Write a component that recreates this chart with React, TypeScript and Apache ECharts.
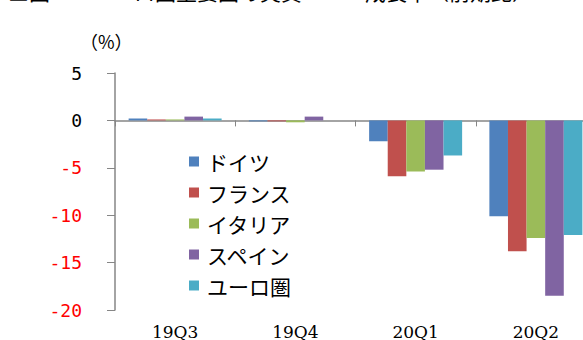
import React, { useEffect, useRef } from "react";
import * as echarts from "echarts";

const categories = ["19Q3", "19Q4", "20Q1", "20Q2"];
const seriesNames = ["ドイツ", "フランス", "イタリア", "スペイン", "ユーロ圏"];
const germany = [0.2, -0.1, -2.2, -10.1];
const france = [0.1, -0.1, -5.9, -13.8];
const italy = [0.1, -0.2, -5.4, -12.4];
const spain = [0.4, 0.4, -5.2, -18.5];
const eurozone = [0.2, 0.0, -3.7, -12.1];
const colors = ["#4F81BD", "#C0504D", "#9BBB59", "#8064A2", "#4BACC6"];
const titleText = "■図２　ユーロ圏主要国の実質ＧＤＰ成長率（前期比）";
const unitText = "（%）";

export default function App() {
  const ref = useRef<HTMLDivElement>(null);
  useEffect(() => {
    if (!ref.current) return;
    const chart = echarts.init(ref.current, null, { renderer: "svg" });
    const values = [germany, france, italy, spain, eurozone];
    chart.setOption({
      animation: false,
      backgroundColor: "#ffffff",
      graphic: [
        {
          type: "text",
          left: 8,
          top: -20,
          style: { text: titleText, fontSize: 21, fill: "#000", fontFamily: "Noto Sans CJK JP" },
        },
        {
          type: "text",
          left: 80,
          top: 32,
          style: { text: unitText, fontSize: 18, fill: "#000", fontFamily: "Noto Sans CJK JP" },
        },
      ],
      legend: {
        orient: "vertical",
        left: 184,
        top: 146,
        itemWidth: 10,
        itemHeight: 10,
        itemGap: 10,
        icon: "rect",
        data: seriesNames,
        textStyle: { fontSize: 21, lineHeight: 21, color: "#000", fontFamily: "Noto Sans CJK JP", padding: [0, 0, 0, 3] },
      },
      grid: { left: 115, top: 73, width: 481, bottom: 30, containLabel: false },
      xAxis: [
        {
          type: "category",
          data: categories,
          axisLine: { onZero: true, lineStyle: { color: "#868686", width: 1.5 } },
          axisTick: { show: true, length: 6, lineStyle: { color: "#868686" } },
          axisLabel: { show: false },
        },
        {
          type: "category",
          data: categories,
          position: "bottom",
          axisLine: { show: false, onZero: false },
          axisTick: { show: false },
          axisLabel: { margin: 13, fontSize: 17, color: "#000", fontFamily: "DejaVu Serif" },
        },
      ],
      yAxis: {
        type: "value",
        min: -20,
        max: 5,
        interval: 5,
        splitLine: { show: false },
        axisLine: { show: true, lineStyle: { color: "#868686", width: 1.5 } },
        axisTick: { show: true, length: 8, lineStyle: { color: "#868686" } },
        axisLabel: {
          margin: 33,
          fontSize: 18,
          fontFamily: "DejaVu Sans Mono",
          color: (v: any) => (Number(v) < 0 ? "#FF0000" : "#000000"),
        },
      },
      series: seriesNames.map((name, i) => ({
        name,
        type: "bar",
        xAxisIndex: 0,
        data: values[i],
        barWidth: 18.6,
        barGap: "0%",
        itemStyle: { color: colors[i] },
      })),
    });
    return () => chart.dispose();
  }, []);
  return (
    <div style={{ position: "absolute", left: 0, top: 0, width: 583, height: 340, overflow: "hidden" }}>
      <div ref={ref} style={{ width: 600, height: 340 }} />
    </div>
  );
}
